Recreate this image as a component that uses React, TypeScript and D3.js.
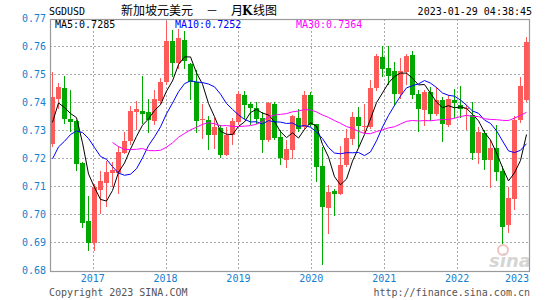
import React from "react";
import * as d3 from "d3";

const W = 545;
const H = 300;

// Months shown: 2016-06 .. 2023-01 (80 monthly candles)
const firstMonth = new Date(2016, 5, 1);
const categories: string[] = d3
  .range(80)
  .map((i) => d3.timeFormat("%Y-%m")(d3.timeMonth.offset(firstMonth, i)));

// Closes of the 19 months before the window (2014-11 .. 2016-05), used only for moving averages
const priorCloses = [
  0.7665, 0.756, 0.739, 0.7337, 0.7285, 0.7555, 0.742, 0.7428, 0.7283, 0.708,
  0.7025, 0.7139, 0.709, 0.7052, 0.7025, 0.7108, 0.742, 0.7437, 0.7254,
];

const opens = [
  0.7251, 0.7411, 0.745, 0.7339, 0.7332, 0.7183, 0.6975, 0.6898, 0.7086, 0.7111,
  0.7148, 0.7148, 0.7219, 0.7261, 0.7365, 0.7368, 0.7364, 0.7333, 0.7404, 0.7471,
  0.7618, 0.754, 0.7621, 0.7537, 0.7471, 0.7336, 0.7336, 0.7283, 0.7308, 0.7211,
  0.7281, 0.7329, 0.7425, 0.7393, 0.7379, 0.7343, 0.7264, 0.7393, 0.7275, 0.7193,
  0.7229, 0.7342, 0.7312, 0.7425, 0.7321, 0.7171, 0.7023, 0.7082, 0.7071, 0.7175,
  0.7269, 0.7346, 0.7312, 0.7312, 0.745, 0.7561, 0.7521, 0.7511, 0.7429, 0.7508,
  0.7568, 0.7429, 0.7371, 0.7436, 0.7358, 0.7407, 0.7319, 0.7407, 0.7389, 0.7375,
  0.7354, 0.7218, 0.7289, 0.7193, 0.7237, 0.7154, 0.6961, 0.7055, 0.7336, 0.7407,
];
const highs = [
  0.7507, 0.7469, 0.7493, 0.7443, 0.7335, 0.7185, 0.7064, 0.7107, 0.7155, 0.7189,
  0.7187, 0.7243, 0.7293, 0.7386, 0.7405, 0.7493, 0.741, 0.7443, 0.7485, 0.769,
  0.7657, 0.7661, 0.7655, 0.754, 0.7514, 0.7393, 0.735, 0.7342, 0.7318, 0.7312,
  0.7344, 0.7439, 0.7439, 0.7401, 0.7401, 0.7365, 0.7401, 0.7401, 0.73, 0.7264,
  0.7354, 0.7374, 0.7439, 0.7436, 0.7321, 0.724, 0.7105, 0.7089, 0.7243, 0.7305,
  0.7365, 0.7382, 0.7393, 0.7479, 0.7571, 0.76, 0.76, 0.7543, 0.7557, 0.7571,
  0.7583, 0.7443, 0.7443, 0.7455, 0.7455, 0.7419, 0.7425, 0.7446, 0.7458, 0.7389,
  0.7401, 0.7312, 0.73, 0.7264, 0.7318, 0.7171, 0.7098, 0.735, 0.749, 0.7633,
];
const lows = [
  0.724, 0.7376, 0.7321, 0.7294, 0.7155, 0.6951, 0.6869, 0.6869, 0.7, 0.7026,
  0.7098, 0.7073, 0.7214, 0.7246, 0.73, 0.7321, 0.7288, 0.7318, 0.7393, 0.7461,
  0.749, 0.7517, 0.7517, 0.7407, 0.729, 0.7269, 0.723, 0.7233, 0.72, 0.7207,
  0.7246, 0.7318, 0.7338, 0.7318, 0.732, 0.7218, 0.7258, 0.7264, 0.7175, 0.7164,
  0.7196, 0.7294, 0.73, 0.7312, 0.7115, 0.6818, 0.693, 0.6994, 0.7068, 0.7169,
  0.7248, 0.724, 0.7288, 0.7305, 0.7439, 0.749, 0.7461, 0.7386, 0.7411, 0.7461,
  0.7411, 0.7294, 0.7315, 0.7333, 0.735, 0.7258, 0.7312, 0.7342, 0.7342, 0.73,
  0.7193, 0.7177, 0.7157, 0.7092, 0.7119, 0.6892, 0.6931, 0.7014, 0.7324, 0.74,
];
const closes = [
  0.7418, 0.7454, 0.7339, 0.733, 0.718, 0.6969, 0.6898, 0.7096, 0.7118, 0.715,
  0.7158, 0.7223, 0.7261, 0.7368, 0.7375, 0.7358, 0.7336, 0.7411, 0.7471, 0.7618,
  0.754, 0.7628, 0.7548, 0.7471, 0.7333, 0.7339, 0.7283, 0.7311, 0.7211, 0.7281,
  0.7332, 0.743, 0.739, 0.7379, 0.7338, 0.7264, 0.7398, 0.727, 0.72, 0.7232,
  0.735, 0.7304, 0.7425, 0.7318, 0.7169, 0.7026, 0.7079, 0.7073, 0.7175, 0.7271,
  0.7346, 0.7314, 0.7315, 0.745, 0.7564, 0.7519, 0.7493, 0.7429, 0.7511, 0.7564,
  0.7426, 0.7375, 0.7436, 0.7357, 0.7407, 0.7323, 0.7411, 0.7398, 0.7374, 0.738,
  0.7218, 0.7294, 0.7192, 0.7237, 0.715, 0.6955, 0.7057, 0.7336, 0.7457, 0.7615,
];

const yTicks = [0.68, 0.69, 0.7, 0.71, 0.72, 0.73, 0.74, 0.75, 0.76, 0.77];
const yearLabels = [2017, 2018, 2019, 2020, 2021, 2022, 2023];
const maPeriods = [5, 10, 30];
const maLegendValues = ["0.7285", "0.7252", "0.7364"];
const maColors = ["#000000", "#0000ff", "#ff00ff"];

const UP = "#ff5a5a";
const DOWN = "#00a800";
const BLUE_TXT = "#1580d0";
const MONO = "'DejaVu Sans Mono', monospace";
const CJK = "'Noto Sans CJK SC', sans-serif";

const L = 50;
const R = 530;
const T = 19;
const B = 271;

export default function App() {
  const x = d3.scaleBand<number>().domain(d3.range(categories.length)).range([L, R]).paddingInner(0);
  const step = x.step();
  const bw = Math.round(step) - 1;
  const y = d3.scaleLinear().domain([0.68, 0.77]).range([270, 18]);
  const t = d3.scaleTime().domain([firstMonth, new Date(2023, 0, 1)]).range([L, R]);

  const all = priorCloses.concat(closes);
  const off = priorCloses.length;
  const maSeries = maPeriods.map((n) =>
    closes.map((_, i) => {
      const end = i + off;
      const start = end - n + 1;
      if (start < 0) return null;
      return d3.mean(all.slice(start, end + 1)) as number;
    })
  );
  const cx = (i: number) => Math.round(x(i) as number) + 2.5;
  const line = d3
    .line<number | null>()
    .defined((d) => d != null)
    .x((_, i) => cx(i))
    .y((d) => y(d as number));

  return (
    <svg
      width={W}
      height={H}
      style={{ position: "absolute", left: 0, top: 0, background: "#fff" }}
      xmlns="http://www.w3.org/2000/svg"
    >
      <defs>
        <clipPath id="plot">
          <rect x={L} y={T} width={R - L - 1} height={B - T} />
        </clipPath>
      </defs>
      <rect x={0} y={0} width={W} height={H} fill="#fff" />

      {/* grid */}
      <g stroke="#aaaaaa" strokeWidth={1} strokeDasharray="2,2" shapeRendering="crispEdges">
        {yTicks
          .filter((v) => v > 0.68 && v < 0.77)
          .map((v) => (
            <line key={"h" + v} x1={L} x2={R - 1} y1={Math.round(y(v)) + 0.5} y2={Math.round(y(v)) + 0.5} />
          ))}
        {yearLabels
          .filter((yr) => yr < 2023)
          .map((yr) => {
            const px = Math.round(t(new Date(yr, 0, 1))) + 0.5;
            return <line key={"v" + yr} x1={px} x2={px} y1={T} y2={B} />;
          })}
      </g>

      {/* watermark */}
      <g opacity={0.35}>
        <circle cx={503} cy={250} r={5} fill="none" stroke="#e05050" strokeWidth={2} />
        <text x={489} y={267} fontFamily="'DejaVu Sans', sans-serif" fontStyle="italic" fontWeight="bold" fontSize={18} fill="#888">
          sina
        </text>
      </g>

      {/* candles */}
      <g clipPath="url(#plot)" shapeRendering="crispEdges">
        {closes.map((c, i) => {
          const o = opens[i];
          const col = c >= o ? UP : DOWN;
          const x0 = Math.round(x(i) as number);
          const top = Math.round(y(Math.max(o, c)));
          const bot = Math.round(y(Math.min(o, c)));
          return (
            <g key={categories[i]}>
              <line x1={x0 + 2.5} x2={x0 + 2.5} y1={y(highs[i])} y2={y(lows[i])} stroke={col} strokeWidth={1} />
              <rect x={x0} y={top} width={bw} height={Math.max(1, bot - top)} fill={col} />
            </g>
          );
        })}
      </g>

      {/* moving averages */}
      <g clipPath="url(#plot)" fill="none">
        {maSeries.map((s, k) => (
          <path key={maPeriods[k]} d={line(s) || ""} stroke={maColors[k]} strokeWidth={1} />
        ))}
      </g>

      {/* frame */}
      <rect x={L + 0.5} y={T + 0.5} width={R - L - 1} height={B - T} fill="none" stroke="#999" strokeWidth={1.2} />

      {/* y labels */}
      <g fontFamily={MONO} fontSize={10} fill={BLUE_TXT} textAnchor="end">
        {yTicks.map((v) => (
          <text key={v} x={46} y={y(v) + 3.5}>
            {v.toFixed(2)}
          </text>
        ))}
      </g>

      {/* x labels */}
      <g fontFamily={MONO} fontSize={10} fill={BLUE_TXT} textAnchor="middle">
        {yearLabels.map((yr) => {
          const px = Math.min(t(new Date(yr, 0, 1)), R - 13);
          return (
            <text key={yr} x={px} y={282}>
              {yr}
            </text>
          );
        })}
      </g>

      {/* header */}
      <text x={49} y={15} fontFamily={MONO} fontSize={10} fill="#000">
        SGDUSD
      </text>
      <text y={15} fontFamily={CJK} fontSize={12} fill="#000">
        <tspan x={121}>新加坡元美元</tspan>
        <tspan x={206}>－</tspan>
        <tspan x={231}>月</tspan>
        <tspan x={242} fontWeight="bold" fontFamily="'DejaVu Serif', serif">K</tspan>
        <tspan x={253}>线图</tspan>
      </text>
      <text x={532} y={15} fontFamily={MONO} fontSize={10} fill="#000" textAnchor="end">
        2023-01-29 04:38:45
      </text>

      {/* MA legend */}
      <g fontFamily={MONO} fontSize={10}>
        <text x={55} y={28} fill={maColors[0]}>{`MA${maPeriods[0]}:${maLegendValues[0]}`}</text>
        <text x={175} y={28} fill={maColors[1]}>{`MA${maPeriods[1]}:${maLegendValues[1]}`}</text>
        <text x={296} y={28} fill={maColors[2]}>{`MA${maPeriods[2]}:${maLegendValues[2]}`}</text>
      </g>

      {/* footer */}
      <text x={49} y={296} fontFamily={MONO} fontSize={10} fill="#555">
        Copyright 2023 SINA.COM
      </text>
      <text x={530} y={296} fontFamily={MONO} fontSize={10} fill="#555" textAnchor="end">
        http://finance.sina.com.cn
      </text>
    </svg>
  );
}
